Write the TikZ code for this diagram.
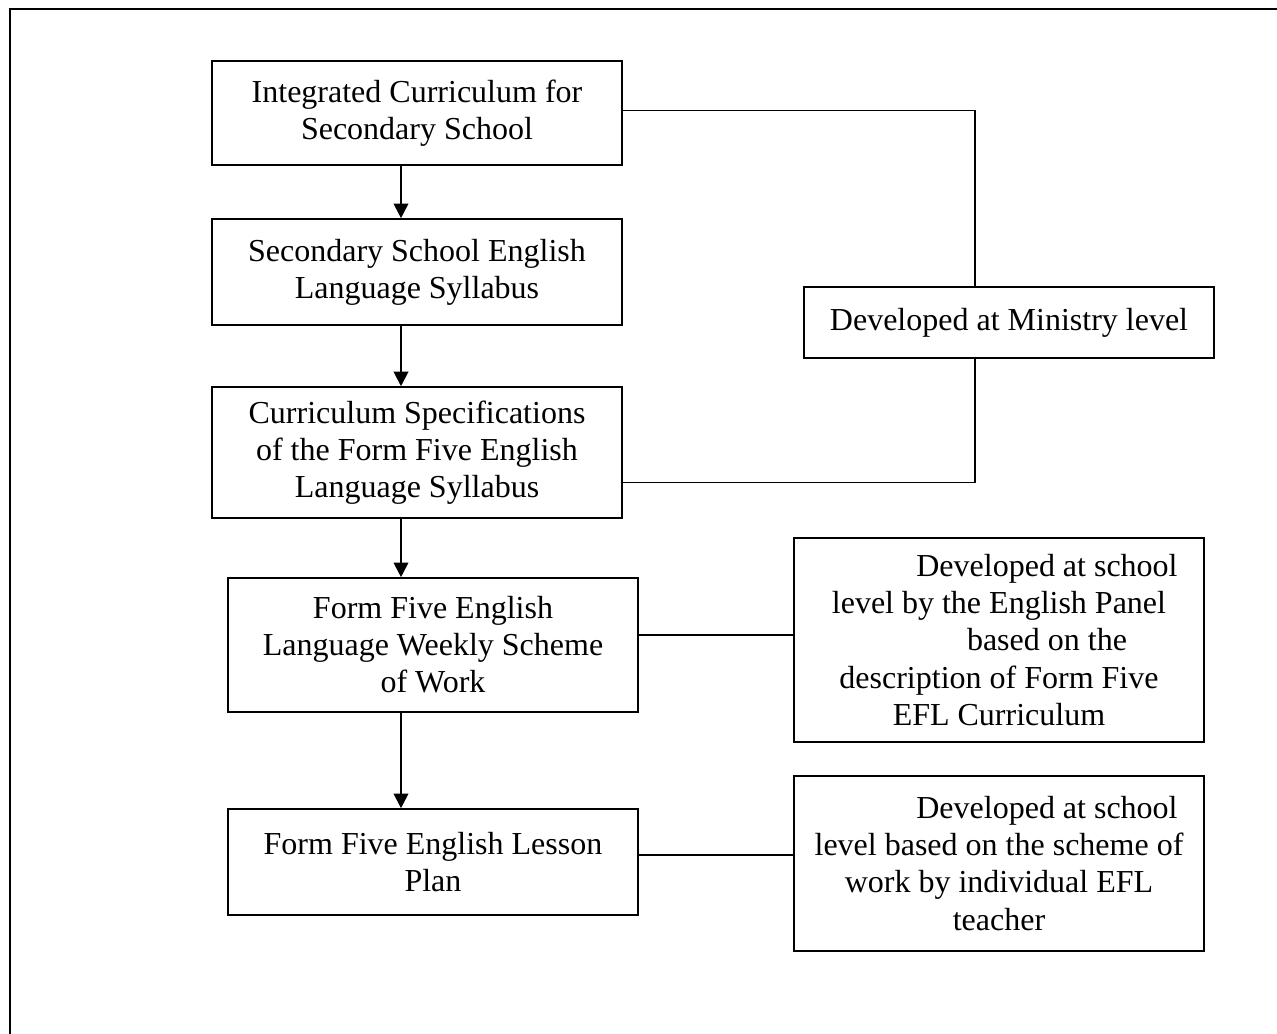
\documentclass[tikz,border=0pt]{standalone}
\usepackage{fontspec}
\setmainfont{Liberation Serif}
\usetikzlibrary{arrows.meta}

\begin{document}
\begin{tikzpicture}[x=0.375pt,y=-0.375pt]
        \tikzstyle{blk}=[draw, line width=0.6pt, minimum width=153.75pt, inner sep=2pt, align=center, font=\fontsize{12pt}{13.9pt}\selectfont]
        \tikzstyle{arr}=[line width=0.75pt, -{Triangle[width=5.5pt,length=5.5pt]}]
        \tikzstyle{link}=[line width=0.45pt]

        \useasboundingbox (0,0) rectangle (1277,1034);
        \begin{scope}
            \clip (0,0) rectangle (1277,1034);
            \draw[line width=0.8pt] (10,9) rectangle (1300,1060);
        \end{scope}

        \node[blk, minimum height=39pt]    (icss)  at (417,113)   {Integrated Curriculum for\\Secondary School};
        \node[blk, minimum height=39.75pt] (syl)   at (417,272)   {Secondary School English\\Language Syllabus};
        \node[blk, minimum height=49.1pt]  (spec)  at (417,452.5) {Curriculum Specifications\\of the Form Five English\\Language Syllabus};
        \node[blk, minimum height=50.25pt] (sow)   at (433,645)   {Form Five English\\Language Weekly Scheme\\of Work};
        \node[blk, minimum height=39.75pt] (plan)  at (433,862)   {Form Five English Lesson\\Plan};

        \node[blk, minimum height=26.6pt]  (min)   at (1009,322.5) {Developed at Ministry level};
        \node[blk, minimum height=76.5pt]  (panel) at (999,640)   {\hspace*{36pt}Developed at school\\level by the English Panel\\\hspace*{36pt}based on the\\description of Form Five\\EFL Curriculum};
        \node[blk, minimum height=65.6pt]  (teach) at (999,863.5) {\hspace*{36pt}Developed at school\\level based on the scheme of\\work by individual EFL\\teacher};

        \draw[arr] ([xshift=-6pt]icss.south) -- ([xshift=-6pt]syl.north);
        \draw[arr] ([xshift=-6pt]syl.south) -- ([xshift=-6pt]spec.north);
        \draw[arr] ([xshift=-6pt]spec.south) -- ([xshift=-6pt]spec.south |- sow.north);
        \draw[arr] ([xshift=-12pt]sow.south) -- ([xshift=-12pt]plan.north);

        \draw[link] ([yshift=1pt]icss.east) -| ([xshift=-12.75pt]min.north);
        \draw[link] ([xshift=-12.75pt]min.south) |- ([yshift=-11.4pt]spec.east);
        \draw[link] ([yshift=1.9pt]panel.west) -- ([yshift=1.9pt]panel.west -| sow.east);
        \draw[link] ([yshift=2.6pt]plan.east) -- ([yshift=2.6pt]plan.east -| teach.west);
\end{tikzpicture}
\end{document}
